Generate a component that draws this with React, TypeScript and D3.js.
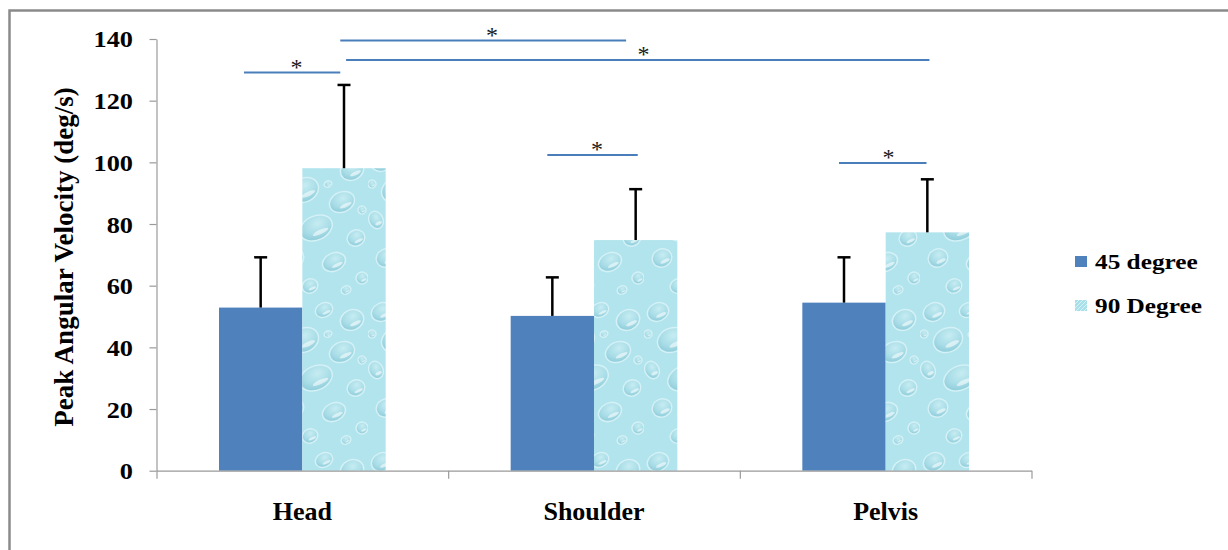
import { useEffect, useRef } from 'react';
import * as d3 from 'd3';

const categories = ['Head', 'Shoulder', 'Pelvis'];
const seriesNames = ['45 degree', '90 Degree'];
const mean45 = [52.9, 50.2, 54.5];
const sd45 = [16.3, 12.5, 14.7];
const mean90 = [98.1, 74.8, 77.3];
const sd90 = [27.0, 16.5, 17.2];
const yTicks = [0, 20, 40, 60, 80, 100, 120, 140];

// significance bars; x given in category-index units (0 = Head centre)
const sigStart = [-0.2, 0.13, 0.15, 0.84, 1.84];
const sigEnd = [0.13, 1.11, 2.15, 1.15, 2.14];
const sigLevel = [129.1, 139.5, 133.2, 102.4, 99.8];
const sigStar = [-0.02, 0.65, 1.17, 1.01, 2.01];

const serif = '"Liberation Serif", "Times New Roman", serif';

// water-drop texture for the 90 degree bars (x, y, rx, ry inside one tile)
const drops = [
  [14, 12, 11, 9], [48, 10, 9, 7], [76, 20, 12, 10], [28, 40, 15, 12],
  [66, 52, 13, 10], [8, 70, 7, 9], [40, 78, 17, 12], [80, 88, 9, 8],
  [18, 108, 10, 9], [58, 112, 12, 9], [86, 128, 6, 6], [34, 136, 8, 7],
  [4, 34, 4, 4], [52, 34, 4, 3], [86, 60, 4, 4], [70, 140, 5, 4]
];

export default function App() {
  const svgRef = useRef<SVGSVGElement>(null);

  useEffect(() => {
    const svg = d3.select(svgRef.current);
    svg.selectAll('g.chart').remove();

    const left = 156.5, right = 1031.5, top = 39, bottom = 470.7;

    const x = d3.scaleBand().domain(categories).range([left, right]);
    const x1 = d3.scaleBand().domain(seriesNames).range([0, x.bandwidth()]).paddingOuter(0.75);
    const y = d3.scaleLinear().domain([0, 140]).range([bottom, top]);
    const xi = d3.scaleLinear().domain([0, 1])
      .range([x('Head')! + x.bandwidth() / 2, x('Shoulder')! + x.bandwidth() / 2]);
    const xEdge = d3.scaleLinear().domain([0, categories.length]).range([left, right]);

    const g = svg.append('g').attr('class', 'chart');

    // outer frame
    g.append('rect')
      .attr('x', 9.5).attr('y', 10.5)
      .attr('width', 1240).attr('height', 560)
      .attr('fill', 'none')
      .attr('stroke', '#8a8a8a')
      .attr('stroke-width', 2.5);

    const series = [
      { name: seriesNames[0], means: mean45, sds: sd45, fill: '#4f81bd' },
      { name: seriesNames[1], means: mean90, sds: sd90, fill: 'url(#drops)' }
    ];

    const rows = series.flatMap(s => categories.map((c, i) => ({
      cat: c, name: s.name, mean: s.means[i], sd: s.sds[i], fill: s.fill
    })));

    g.selectAll('.bar')
      .data(rows)
      .join('rect')
      .attr('class', 'bar')
      .attr('x', d => x(d.cat)! + x1(d.name)!)
      .attr('y', d => y(d.mean))
      .attr('width', x1.bandwidth())
      .attr('height', d => bottom - y(d.mean))
      .attr('fill', d => d.fill);

    // error bars (upper only)
    const eb = g.append('g').attr('stroke', '#000').attr('stroke-width', 2.5);
    rows.forEach(d => {
      const cx = x(d.cat)! + x1(d.name)! + x1.bandwidth() / 2;
      eb.append('line')
        .attr('x1', cx).attr('x2', cx)
        .attr('y1', y(d.mean)).attr('y2', y(d.mean + d.sd));
      eb.append('line')
        .attr('x1', cx - 6.5).attr('x2', cx + 6.5)
        .attr('y1', y(d.mean + d.sd)).attr('y2', y(d.mean + d.sd));
    });

    // y axis
    const yAxis = g.append('g')
      .attr('transform', `translate(${left},0)`)
      .call(d3.axisLeft(y).tickValues(yTicks).tickSize(7).tickSizeOuter(0));
    yAxis.selectAll('path, line').attr('stroke', '#9a9a9a').attr('stroke-width', 1.2);
    yAxis.selectAll('text')
      .attr('x', -23.5 / 1.12)
      .attr('dy', '0.34em')
      .attr('transform', 'scale(1.12,1)')
      .style('font-family', serif)
      .style('font-size', '23.5px')
      .style('font-weight', 'bold')
      .attr('fill', '#000');

    // x axis, ticks on category boundaries
    const xAxis = g.append('g')
      .attr('transform', `translate(0,${bottom})`)
      .call(d3.axisBottom(xEdge).tickValues(d3.range(categories.length + 1))
        .tickFormat(() => '').tickSize(8).tickSizeOuter(0));
    xAxis.selectAll('path, line').attr('stroke', '#9a9a9a').attr('stroke-width', 1.2);

    g.selectAll('.xlab')
      .data(categories)
      .join('text')
      .attr('class', 'xlab')
      .attr('x', d => x(d)! + x.bandwidth() / 2)
      .attr('y', 520)
      .attr('text-anchor', 'middle')
      .style('font-family', serif)
      .style('font-size', '26px')
      .style('font-weight', 'bold')
      .text(d => d);

    g.append('text')
      .attr('transform', 'translate(73,257) rotate(-90)')
      .attr('text-anchor', 'middle')
      .style('font-family', serif)
      .style('font-size', '27px')
      .style('font-weight', 'bold')
      .text('Peak Angular Velocity (deg/s)');

    // significance markers
    sigLevel.forEach((lv, i) => {
      g.append('line')
        .attr('x1', xi(sigStart[i])).attr('x2', xi(sigEnd[i]))
        .attr('y1', y(lv)).attr('y2', y(lv))
        .attr('stroke', '#4a7ebb')
        .attr('stroke-width', 2);
      g.append('text')
        .attr('x', xi(sigStar[i]))
        .attr('y', y(lv) + 2)
        .attr('text-anchor', 'middle')
        .style('font-family', serif)
        .style('font-size', '24px')
        .attr('fill', '#1a1a1a')
        .text('*');
    });

    // legend
    const legend = g.append('g').attr('transform', 'translate(1075,256)');
    series.forEach((s, i) => {
      legend.append('rect')
        .attr('x', 0).attr('y', i * 44)
        .attr('width', 12).attr('height', 11)
        .attr('fill', i === 0 ? s.fill : 'url(#legendDrops)');
      legend.append('text')
        .attr('transform', `translate(20,${13 + i * 44}) scale(1.15,1)`)
        .style('font-family', serif)
        .style('font-size', '22px')
        .style('font-weight', 'bold')
        .text(s.name);
    });
  }, []);

  return (
    <svg ref={svgRef} width={1228} height={550}
      style={{ position: 'absolute', left: 0, top: 0, background: '#fff' }}>
      <defs>
        <radialGradient id="dropGrad" cx="0.6" cy="0.35" r="0.75">
          <stop offset="0" stopColor="#c6ecf2" />
          <stop offset="0.55" stopColor="#a9dde7" />
          <stop offset="1" stopColor="#86c7d5" />
        </radialGradient>
        <pattern id="drops" patternUnits="userSpaceOnUse" width={92} height={150}>
          <rect width={92} height={150} fill="#b2e4ed" />
          {drops.map(([cx, cy, rx, ry], i) => (
            <g key={i} transform={`rotate(-25 ${cx} ${cy})`}>
              <ellipse cx={cx} cy={cy} rx={rx} ry={ry} fill="url(#dropGrad)"
                stroke="#d3f1f6" strokeWidth={1.5} />
              <ellipse cx={cx + rx * 0.15} cy={cy + ry * 0.45} rx={rx * 0.5} ry={ry * 0.18}
                fill="#ffffff" opacity={0.55} />
            </g>
          ))}
        </pattern>
        <pattern id="legendDrops" patternUnits="userSpaceOnUse" width={4} height={4}>
          <rect width={4} height={4} fill="#a8dfe9" />
          <path d="M0,4 L4,0" stroke="#d6f3f7" strokeWidth={1} />
        </pattern>
      </defs>
    </svg>
  );
}
